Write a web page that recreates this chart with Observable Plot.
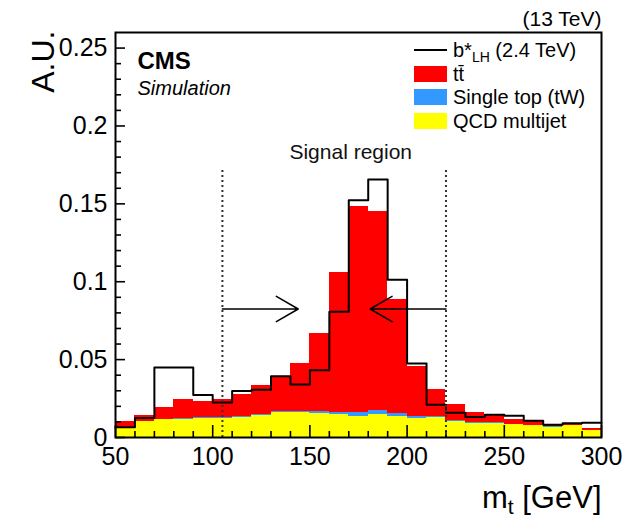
<!DOCTYPE html>
<html><head><meta charset="utf-8">
<script src="https://cdn.jsdelivr.net/npm/d3@7"></script>
<script src="https://cdn.jsdelivr.net/npm/@observablehq/plot@0.6"></script>
<style>
body{margin:0;background:#fff;}
#wrap{position:relative;width:627px;height:521px;font-family:"Liberation Sans",Arial,Helvetica,sans-serif;}
.sw{position:absolute;left:414px;width:33px;height:16px;}
.ln{position:absolute;left:414px;width:33px;height:0;border-top:2px solid #000;}
.lt{position:absolute;left:453px;font-size:20px;line-height:24px;white-space:nowrap;color:#000;}
.lt sub{font-size:14px;vertical-align:-5px;line-height:0;}
</style></head><body>
<div id="wrap"></div>
<script>
// bins (GeV)
const binLow = [50,60,70,80,90,100,110,120,130,140,150,160,170,180,190,200,210,220,230,240,250,260,270,280,290];
const binWidth = 10;
// stacked backgrounds (A.U.)
const qcd = [0.0062,0.0100,0.0113,0.0118,0.0120,0.0125,0.0128,0.0142,0.0160,0.0158,0.0156,0.0147,0.0136,0.0146,0.0137,0.0125,0.0128,0.0105,0.0092,0.0092,0.0082,0.0077,0.0066,0.0077,0.0045];
const singleTop = [0.0003,0.0003,0.0005,0.0006,0.0006,0.0006,0.0006,0.0008,0.0008,0.0010,0.0013,0.0016,0.0023,0.0026,0.0018,0.0012,0.0008,0.0006,0.0004,0.0003,0.0003,0.0003,0.0002,0.0002,0.0002];
const ttbar = [0.0038,0.0037,0.0072,0.0123,0.0108,0.0116,0.0139,0.0183,0.0221,0.0307,0.0499,0.0896,0.1321,0.1280,0.0732,0.0316,0.0171,0.0102,0.0065,0.0051,0.0031,0.0023,0.0009,0.0013,0.0013];
// signal b*_LH (2.4 TeV)
const signal = [0.0066,0.0125,0.0450,0.0450,0.0273,0.0225,0.0298,0.0307,0.0393,0.0340,0.0432,0.0807,0.1523,0.1656,0.1012,0.0475,0.0210,0.0159,0.0131,0.0146,0.0140,0.0107,0.0082,0.0092,0.0095];

const seriesNames = ["QCD multijet", "Single top (tW)", "tt\u0304"];
const seriesColors = ["#ffff00", "#3399ff", "#ff0000"];
const seriesValues = [qcd, singleTop, ttbar];

const xTicks = [50,100,150,200,250,300];
const yTicks = [0,0.05,0.1,0.15,0.2,0.25];
const xMinor = [60,70,80,90,110,120,130,140,160,170,180,190,210,220,230,240,260,270,280,290];
const yMinor = [0.01,0.02,0.03,0.04,0.06,0.07,0.08,0.09,0.11,0.12,0.13,0.14,0.16,0.17,0.18,0.19,0.21,0.22,0.23,0.24];

const signalRegion = [105, 220];
const signalRegionTop = 0.1733;
const arrows = [{x1:105, x2:144, y:0.0825},{x1:220, x2:181, y:0.0825}];
const regionLabel = [{x:171, y:0.1785, text:"Signal region"}];

const stackData = [];
seriesNames.forEach((s, k) => {
  seriesValues[k].forEach((v, i) => stackData.push({x1: binLow[i], x2: binLow[i] + binWidth, series: s, value: v}));
});
const signalLine = signal.map((v, i) => ({x: binLow[i], y: v}))
  .concat([{x: binLow[binLow.length-1] + binWidth, y: signal[signal.length-1]}]);

const font = '"Liberation Sans", Arial, Helvetica, sans-serif';
const W = 627, H = 521, mL = 115, mR = 26, mT = 32, mB = 84;
const tickW = 1.6;

const plot = Plot.plot({
  width: W, height: H,
  marginLeft: mL, marginRight: mR, marginTop: mT, marginBottom: mB,
  style: {fontFamily: font, fontSize: "25px", background: "white", color: "black", overflow: "visible"},
  x: {domain: [50, 300], axis: null},
  y: {domain: [0, 0.26], axis: null},
  color: {domain: seriesNames, range: seriesColors},
  marks: [
    Plot.rectY(stackData, {x1: "x1", x2: "x2", y: "value", fill: "series", order: seriesNames, shapeRendering: "crispEdges"}),
    Plot.line(signalLine, {x: "x", y: "y", curve: "step-after", stroke: "black", strokeWidth: 2}),
    Plot.ruleX(signalRegion, {y1: 0, y2: signalRegionTop, stroke: "#333", strokeWidth: 2, strokeDasharray: "2,3"}),
    Plot.arrow(arrows, {x1: "x1", x2: "x2", y1: "y", y2: "y", stroke: "black", strokeWidth: 1.5, headLength: 30, headAngle: 60}),
    Plot.text(regionLabel, {x: "x", y: "y", text: "text", fontSize: 21, lineAnchor: "bottom", fill: "#111"}),
    // inward ticks: short tick marks anchored on the frame edges
    Plot.tickX(xMinor, {x: d => d, insetTop: H - mT - mB - 6, stroke: "black", strokeWidth: tickW}),
    Plot.tickX(xTicks, {x: d => d, insetTop: H - mT - mB - 12, stroke: "black", strokeWidth: tickW}),
    Plot.tickY(yMinor, {y: d => d, insetRight: W - mL - mR - 6, stroke: "black", strokeWidth: tickW}),
    Plot.tickY(yTicks, {y: d => d, insetRight: W - mL - mR - 10, stroke: "black", strokeWidth: tickW}),
    // tick labels
    Plot.axisX({ticks: xTicks, tickFormat: d => String(d), tickSize: 0, tickPadding: 10, label: null, fontSize: 25}),
    Plot.axisY({ticks: yTicks, tickFormat: d => String(d), tickSize: 0, tickPadding: 8, label: null, fontSize: 25}),
    Plot.frame({stroke: "black", strokeWidth: 2}),
    // annotations
    Plot.text(["CMS"], {frameAnchor: "top-left", dx: 22, dy: 36, textAnchor: "start", lineAnchor: "bottom", fontSize: 24, fontWeight: "bold"}),
    Plot.text(["Simulation"], {frameAnchor: "top-left", dx: 22, dy: 62, textAnchor: "start", lineAnchor: "bottom", fontSize: 20, fontStyle: "italic"}),
    Plot.text(["(13 TeV)"], {frameAnchor: "top-right", dx: 0, dy: -7, textAnchor: "end", lineAnchor: "bottom", fontSize: 21}),
    Plot.text(["A.U."], {frameAnchor: "top-left", dx: -62, dy: -2, rotate: -90, textAnchor: "end", lineAnchor: "bottom", fontSize: 32}),
    Plot.text(["m_t [GeV]"], {frameAnchor: "bottom-right", dx: 0, dy: 70, textAnchor: "end", lineAnchor: "bottom", fontSize: 31, className: "xlab"})
  ]
});

// subscript in the x title
const xl = plot.querySelector(".xlab text");
if (xl) {
  const t = d3.select(xl);
  t.text(null);
  t.append("tspan").text("m");
  t.append("tspan").attr("font-size", "21px").attr("dy", "6").text("t");
  t.append("tspan").attr("dy", "-6").text(" [GeV]");
}

const wrap = document.getElementById("wrap");
wrap.appendChild(plot);

// legend
const legendItems = [
  {type: "line", html: "b*<sub>LH</sub> (2.4 TeV)", cy: 50},
  {type: "box", color: seriesColors[2], html: seriesNames[2], cy: 73.5},
  {type: "box", color: seriesColors[1], html: seriesNames[1], cy: 97},
  {type: "box", color: seriesColors[0], html: seriesNames[0], cy: 121}
];
legendItems.forEach(it => {
  if (it.type === "line") {
    const d = document.createElement("div"); d.className = "ln"; d.style.top = (it.cy - 1) + "px"; wrap.appendChild(d);
  } else {
    const d = document.createElement("div"); d.className = "sw"; d.style.top = (it.cy - 8) + "px"; d.style.background = it.color; wrap.appendChild(d);
  }
  const t = document.createElement("div"); t.className = "lt"; t.style.top = (it.cy - 12) + "px"; t.innerHTML = it.html; wrap.appendChild(t);
});
</script>
</body></html>
